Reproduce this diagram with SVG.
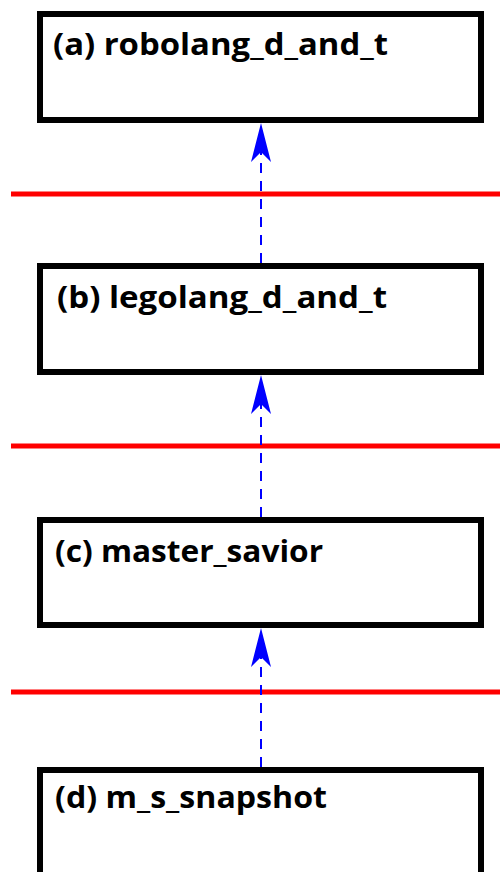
<svg xmlns="http://www.w3.org/2000/svg" width="500" height="872" viewBox="0 0 500 872">
<style>
.box{fill:#fff;stroke:#000;stroke-width:6}
.lbl{font-family:"Open Sans","Noto Sans",sans-serif;font-weight:bold;font-size:30px;fill:#000}
.sep{stroke:#f00;stroke-width:5}
.conn{stroke:#00f;stroke-width:2;stroke-dasharray:10,8;fill:none}
.head{fill:#00f}
</style>
<rect width="500" height="872" fill="#fff"/>
<g id="separators">
<line class="sep" x1="11" y1="194" x2="500" y2="194"/>
<line class="sep" x1="11" y1="446" x2="500" y2="446"/>
<line class="sep" x1="11" y1="692" x2="500" y2="692"/>
</g>
<g id="node-a"><rect class="box" x="40" y="14" width="441" height="106"/><text class="lbl" x="53" y="55" textLength="335" lengthAdjust="spacingAndGlyphs">(a) robolang_d_and_t</text></g>
<g id="node-b"><rect class="box" x="40" y="266" width="441" height="106"/><text class="lbl" x="57" y="308" textLength="330" lengthAdjust="spacingAndGlyphs">(b) legolang_d_and_t</text></g>
<g id="node-c"><rect class="box" x="40" y="520" width="441" height="105"/><text class="lbl" x="55" y="562" textLength="268" lengthAdjust="spacingAndGlyphs">(c) master_savior</text></g>
<g id="node-d"><rect class="box" x="40" y="770" width="441" height="120"/><text class="lbl" x="55" y="808" textLength="272" lengthAdjust="spacingAndGlyphs">(d) m_s_snapshot</text></g>
<g id="connectors">
<line class="conn" x1="261" y1="263" x2="261" y2="150"/>
<path class="head" d="M261,123 L271,162 L261,152 L251,162 Z"/>
<line class="conn" x1="261" y1="517" x2="261" y2="403"/>
<path class="head" d="M261,375 L271,414 L261,404 L251,414 Z"/>
<line class="conn" x1="261" y1="767" x2="261" y2="656"/>
<path class="head" d="M261,628 L271,667 L261,657 L251,667 Z"/>
</g>
</svg>
